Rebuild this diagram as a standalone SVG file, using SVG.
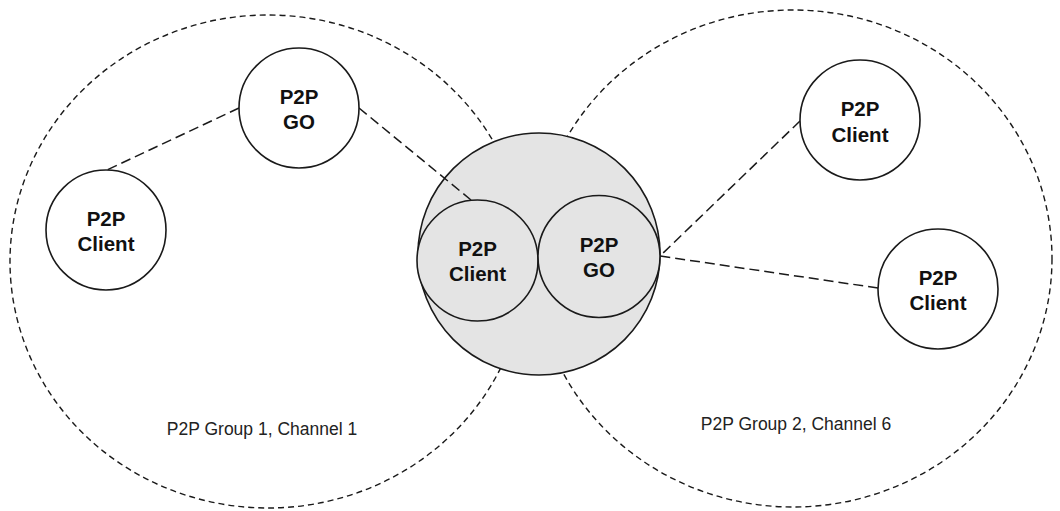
<svg xmlns="http://www.w3.org/2000/svg" width="1060" height="511" viewBox="0 0 1060 511">
  <style>
    .group { fill: none; stroke: #1a1a1a; stroke-width: 1.4; stroke-dasharray: 6 4; }
    .node { fill: #fff; stroke: #1a1a1a; stroke-width: 1.6; }
    .shared { fill: #e4e4e4; stroke: #1a1a1a; stroke-width: 1.6; }
    .link { fill: none; stroke: #1a1a1a; stroke-width: 1.5; stroke-dasharray: 10 5; }
    .lbl { font-family: "Liberation Sans", Arial, sans-serif; font-weight: bold; font-size: 20.5px; fill: #111; text-anchor: middle; }
    .cap { font-family: "Liberation Sans", Arial, sans-serif; font-size: 17.5px; fill: #222; text-anchor: middle; }
  </style>
  <rect width="1060" height="511" fill="#fff"/>

  <!-- group boundaries -->
  <g id="groups">
    <ellipse class="group" cx="268" cy="261.5" rx="258" ry="246.5"/>
    <ellipse class="group" cx="793" cy="258.5" rx="259" ry="248.5"/>
    <text class="cap" x="262" y="435">P2P Group 1, Channel 1</text>
    <text class="cap" x="796" y="430">P2P Group 2, Channel 6</text>
  </g>

  <!-- shared device -->
  <g id="shared-device">
    <circle class="shared" cx="539" cy="254" r="121"/>
  </g>

  <!-- dashed links -->
  <g id="connectors">
    <line class="link" x1="239" y1="108" x2="107" y2="170"/>
    <line class="link" x1="359" y1="108" x2="471" y2="200"/>
    <line class="link" x1="800" y1="121" x2="660" y2="256"/>
    <line class="link" x1="878" y1="288" x2="660" y2="256"/>
  </g>

  <g id="shared-client">
    <circle class="shared" cx="477.5" cy="260.5" r="60.5"/>
    <text class="lbl" x="477.5" y="256">P2P</text>
    <text class="lbl" x="477.5" y="281">Client</text>
  </g>
  <g id="shared-go">
    <circle class="shared" cx="599" cy="256.5" r="61"/>
    <text class="lbl" x="599" y="252">P2P</text>
    <text class="lbl" x="599" y="277">GO</text>
  </g>

  <g id="go-1">
    <circle class="node" cx="299" cy="108" r="60"/>
    <text class="lbl" x="299" y="104">P2P</text>
    <text class="lbl" x="299" y="129">GO</text>
  </g>
  <g id="client-1">
    <circle class="node" cx="106" cy="230" r="60"/>
    <text class="lbl" x="106" y="226">P2P</text>
    <text class="lbl" x="106" y="251">Client</text>
  </g>
  <g id="client-2a">
    <circle class="node" cx="860" cy="120" r="60"/>
    <text class="lbl" x="860" y="116">P2P</text>
    <text class="lbl" x="860" y="142">Client</text>
  </g>
  <g id="client-2b">
    <circle class="node" cx="938" cy="289" r="60"/>
    <text class="lbl" x="938" y="285">P2P</text>
    <text class="lbl" x="938" y="310">Client</text>
  </g>
</svg>
